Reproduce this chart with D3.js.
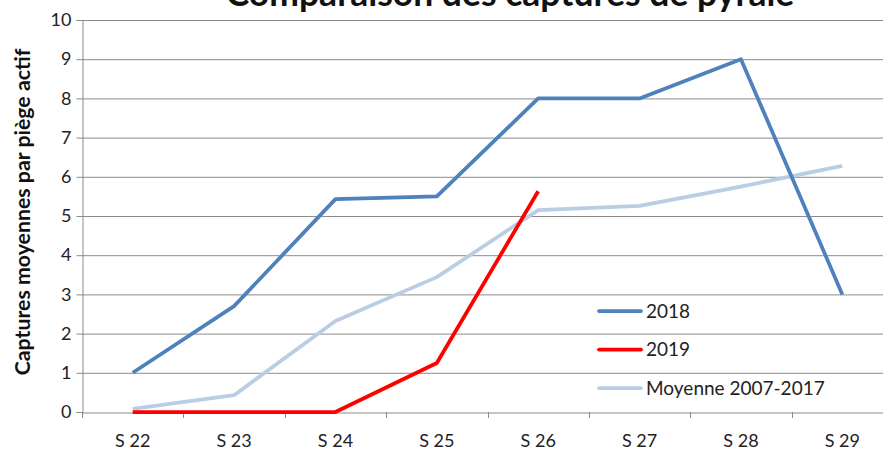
<!DOCTYPE html>
<html>
<head>
<meta charset="utf-8">
<script src="https://cdn.jsdelivr.net/npm/d3@7"></script>
<style>
  html, body { margin: 0; padding: 0; background: #fff; }
  svg { display: block; font-family: Lato, "Liberation Sans", sans-serif; }
</style>
</head>
<body>
<svg id="chart" width="883" height="450"></svg>
<script>
// Weekly pyralid moth catches per active trap
const weeks = ["S 22", "S 23", "S 24", "S 25", "S 26", "S 27", "S 28", "S 29"];
const catches2018 = [1.0, 2.7, 5.43, 5.5, 8.0, 8.0, 9.0, 3.0];
const catches2019 = [0, 0, 0, 1.25, 5.63];
const average2007_2017 = [0.08, 0.43, 2.32, 3.44, 5.15, 5.26, 5.75, 6.28];
const yTicks = [0, 1, 2, 3, 4, 5, 6, 7, 8, 9, 10];

const seriesNames = ["2018", "2019", "Moyenne 2007-2017"];
const seriesColors = ["#4F81BD", "#FF0000", "#B9CDE5"];
const seriesValues = [catches2018, catches2019, average2007_2017];

const svg = d3.select("#chart");
const plot = { left: 82, right: 893, top: 20, bottom: 412 };

const x = d3.scaleBand().domain(weeks).range([plot.left, plot.right]);
const y = d3.scaleLinear().domain([0, 10]).range([plot.bottom, plot.top]);

// Horizontal gridlines
svg.append("g")
  .selectAll("line")
  .data(yTicks.filter(t => t > 0))
  .join("line")
  .attr("x1", plot.left).attr("x2", 883)
  .attr("y1", d => y(d) + 0.5).attr("y2", d => y(d) + 0.5)
  .attr("stroke", "#8c8c8c").attr("stroke-width", 1);

// Y axis
const yAxis = svg.append("g")
  .attr("transform", `translate(${plot.left + 0.5},0)`)
  .call(d3.axisLeft(y).tickValues(yTicks).tickSize(6).tickPadding(5));
yAxis.select(".domain").attr("stroke", "#8c8c8c");
yAxis.selectAll(".tick line").attr("stroke", "#8c8c8c");
yAxis.selectAll(".tick text")
  .attr("font-size", 18).attr("fill", "#222")
  .attr("font-family", "Lato, sans-serif");

// X axis: ticks sit on the band boundaries
const xAxis = svg.append("g")
  .attr("transform", `translate(0,${plot.bottom + 0.5})`)
  .call(d3.axisBottom(x).tickSize(0).tickPadding(22));
xAxis.select(".domain").attr("stroke", "#8c8c8c");
xAxis.selectAll(".tick text")
  .attr("font-size", 18).attr("fill", "#222")
  .attr("font-family", "Lato, sans-serif");
svg.append("g")
  .selectAll("line")
  .data(weeks)
  .join("line")
  .attr("x1", d => Math.round(x(d)) + 0.5).attr("x2", d => Math.round(x(d)) + 0.5)
  .attr("y1", plot.bottom).attr("y2", plot.bottom + 6)
  .attr("stroke", "#8c8c8c");

// Series lines
const line = d3.line()
  .x((d, i) => x(weeks[i]) + x.bandwidth() / 2)
  .y(d => y(d));

const drawOrder = [2, 1, 0];
svg.append("g")
  .selectAll("path")
  .data(drawOrder)
  .join("path")
  .attr("d", k => line(seriesValues[k]))
  .attr("fill", "none")
  .attr("stroke", k => seriesColors[k])
  .attr("stroke-width", 3.75)
  .attr("stroke-linejoin", "round");

// Legend
const legend = svg.append("g");
seriesNames.forEach((name, i) => {
  const ly = 311 + i * 38.5;
  legend.append("line")
    .attr("x1", 599).attr("x2", 641)
    .attr("y1", ly).attr("y2", ly)
    .attr("stroke", seriesColors[i]).attr("stroke-width", 3.75)
    .attr("stroke-linecap", "round");
  legend.append("text")
    .attr("x", 646).attr("y", ly)
    .attr("dy", "0.35em")
    .attr("font-size", 19).attr("fill", "#222")
    .text(name);
});

// Y axis title
svg.append("text")
  .attr("transform", "translate(30,212) rotate(-90)")
  .attr("text-anchor", "middle")
  .attr("font-size", 21.3).attr("font-weight", "bold").attr("fill", "#111")
  .text("Captures moyennes par piège actif");

// Chart title (partly above the visible area)
svg.append("text")
  .attr("x", 510).attr("y", 6)
  .attr("text-anchor", "middle")
  .attr("font-size", 35.5).attr("font-weight", "bold").attr("fill", "#111")
  .text("Comparaison des captures de pyrale");
</script>
</body>
</html>
